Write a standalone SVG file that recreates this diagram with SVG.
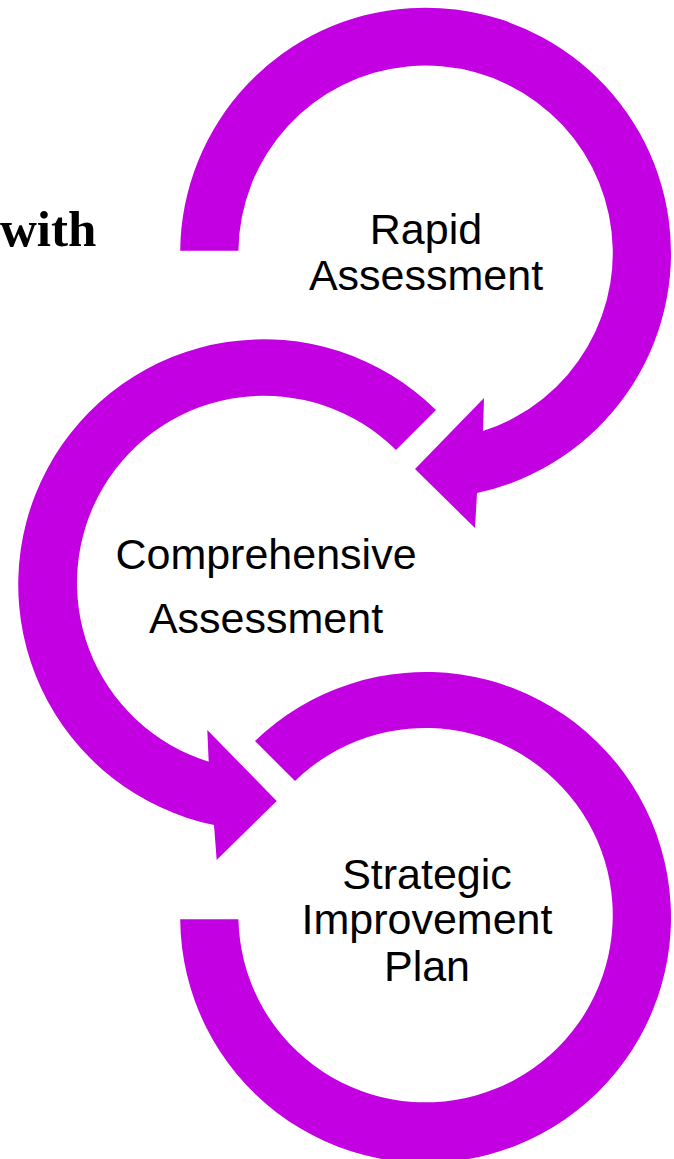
<svg xmlns="http://www.w3.org/2000/svg" width="674" height="1159" viewBox="0 0 674 1159">
<style>
.arrow{fill:#C200E2;stroke:none}
.lbl{font-family:"Liberation Sans",Arial,sans-serif;font-size:43px;fill:#000;text-anchor:middle}
.ser{font-family:"Liberation Serif","Times New Roman",serif;font-size:51px;font-weight:bold;fill:#000}
</style>
<rect width="674" height="1159" fill="#fff"/>
<g id="connectors">
<path id="arrow1" class="arrow" d="M180.2,250.7 A245.4,245.4 0 1 1 477,493 L475,528 L415,469 L484,398 L483,431 A187.2,187.2 0 1 0 238.4,250.7 Z"/>
<path id="arrow2" class="arrow" d="M436,410 A245.4,245.4 0 1 0 214,825 L216.7,860 L276.7,801 L207.3,730 L208.7,761.7 A187.2,187.2 0 1 1 396,450 Z"/>
<path id="arrow3" class="arrow" d="M255,741 A245.4,245.4 0 1 1 180.2,919.3 L238.4,919.3 A187.2,187.2 0 1 0 295,781 Z"/>
</g>
<text class="ser" x="0" y="246">with</text>
<g id="node-rapid">
<text class="lbl" x="426" y="244">Rapid</text>
<text class="lbl" x="426" y="290">Assessment</text>
</g>
<g id="node-comprehensive">
<text class="lbl" x="266" y="569">Comprehensive</text>
<text class="lbl" x="266" y="633">Assessment</text>
</g>
<g id="node-strategic">
<text class="lbl" x="427" y="889">Strategic</text>
<text class="lbl" x="427" y="934">Improvement</text>
<text class="lbl" x="427" y="981">Plan</text>
</g>
</svg>
